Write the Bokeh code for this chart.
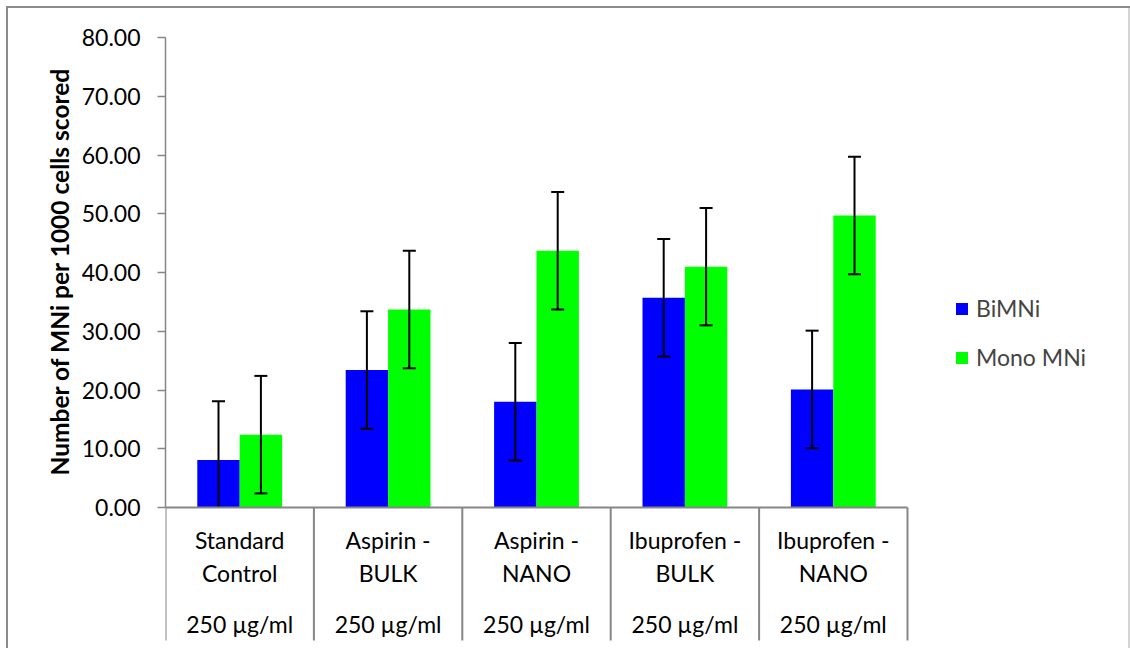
from bokeh.plotting import figure
from bokeh.models import (Range1d, FixedTicker, NumeralTickFormatter, Title,
                          Legend, LegendItem, ColumnDataSource)
from bokeh.core.properties import value
from bokeh.embed import file_html
from bokeh.resources import INLINE

# ---------------- data ----------------
categories = ["Standard\nControl", "Aspirin -\nBULK", "Aspirin -\nNANO",
              "Ibuprofen -\nBULK", "Ibuprofen -\nNANO"]
dose_labels = ["250 µg/ml", "250 µg/ml", "250 µg/ml", "250 µg/ml", "250 µg/ml"]
bimni = [8.1, 23.4, 18.0, 35.7, 20.1]
bimni_err = [10.0, 10.0, 10.0, 10.0, 10.0]
mono_mni = [12.4, 33.7, 43.7, 41.0, 49.7]
mono_err = [10.0, 10.0, 10.0, 10.0, 10.0]
series_names = ["BiMNi", "Mono MNi"]
y_ticks = [0, 10, 20, 30, 40, 50, 60, 70, 80]
y_title = "Number of MNi per 1000 cells scored"

# ---------------- style ----------------
FONT = "Lato"
FS = "23px"
AXIS_COLOR = "#868686"
BLUE = "#0000FF"
GREEN = "#00FF00"
BAR_W = 1 / 3.5
PX_PER_UNIT = 470 / 80.0
CAT_PX = (907 - 165) / 5.0
FRAME_L, FRAME_R, FRAME_T, FRAME_B = 165, 1127, 37, 648
ZERO_Y = 507
Y_BOTTOM = -(FRAME_B - ZERO_Y) / PX_PER_UNIT
SEP_BOTTOM = -(640 - ZERO_Y) / PX_PER_UNIT
X_END = (FRAME_R - FRAME_L) / CAT_PX


def dy(px_below_zero):
    return -px_below_zero / PX_PER_UNIT


W, H = 1130, 648
p = figure(width=W, height=H, output_backend="svg", toolbar_location=None,
           x_range=Range1d(0, X_END), y_range=Range1d(Y_BOTTOM, 80),
           x_axis_location=None, min_border_left=FRAME_L, min_border_right=W - FRAME_R,
           min_border_top=FRAME_T, min_border_bottom=H - FRAME_B)
p.xgrid.visible = False
p.ygrid.visible = False
p.outline_line_color = None
p.background_fill_color = "white"
p.border_fill_color = None
p.styles = {"box-shadow": ("inset 0 6px 0 0 white, inset 6px 0 0 0 white, "
                           "inset 0 8px 0 0 #8c8c8c, inset 8px 0 0 0 #8c8c8c, "
                           "inset -2px 0 0 0 #d4d4d4")}

# y axis
ax = p.yaxis[0]
ax.ticker = FixedTicker(ticks=y_ticks)
ax.formatter = NumeralTickFormatter(format="0.00")
ax.bounds = (0, 80)
ax.axis_line_color = AXIS_COLOR
ax.axis_line_width = 1.5
ax.major_tick_line_color = AXIS_COLOR
ax.major_tick_line_width = 1.5
ax.major_tick_out = 8
ax.major_tick_in = 0
ax.minor_tick_line_color = None
ax.major_label_standoff = 17
ax.major_label_text_font = FONT
ax.major_label_text_font_size = FS
ax.major_label_text_color = "black"

ytitle = Title(text=y_title, align="left", offset=FRAME_B - 475,
               text_font=FONT, text_font_size="24.5px", text_font_style="bold",
               text_color="black", standoff=10)
p.add_layout(ytitle, "left")

n = len(categories)
centers = [i + 0.5 for i in range(n)]
src = ColumnDataSource(dict(
    xc=centers, bimni=bimni, mono=mono_mni,
    xb=[c - BAR_W / 2 for c in centers], xm=[c + BAR_W / 2 for c in centers],
    b_hi=[v + e for v, e in zip(bimni, bimni_err)],
    b_lo=[max(v - e, 0) for v, e in zip(bimni, bimni_err)],
    m_hi=[v + e for v, e in zip(mono_mni, mono_err)],
    m_lo=[max(v - e, 0) for v, e in zip(mono_mni, mono_err)],
))

r_b = p.vbar(x="xb", top="bimni", bottom=0, width=BAR_W, source=src,
             fill_color=BLUE, line_color=None)
r_m = p.vbar(x="xm", top="mono", bottom=0, width=BAR_W, source=src,
             fill_color=GREEN, line_color=None)

# error bars
for xcol, hi, lo, vals, errs in (("xb", "b_hi", "b_lo", bimni, bimni_err),
                                 ("xm", "m_hi", "m_lo", mono_mni, mono_err)):
    p.segment(x0=xcol, y0=lo, x1=xcol, y1=hi, source=src, line_color="black", line_width=2)
    p.scatter(x=xcol, y=hi, source=src, marker="dash", size=13, line_color="black", line_width=2)
    lo_ok = [i for i, (v, e) in enumerate(zip(vals, errs)) if v - e > 0]
    sub = ColumnDataSource(dict(x=[src.data[xcol][i] for i in lo_ok],
                                lo=[vals[i] - errs[i] for i in lo_ok]))
    p.scatter(x="x", y="lo", source=sub, marker="dash", size=13,
              line_color="black", line_width=2)

# category axis (table style)
bounds_x = list(range(n + 1))
p.segment(x0=[0], y0=[0], x1=[n], y1=[0], line_color=AXIS_COLOR, line_width=2)
p.segment(x0=bounds_x, y0=[0] * (n + 1), x1=bounds_x, y1=[SEP_BOTTOM] * (n + 1),
          line_color=AXIS_COLOR, line_width=2)

line1 = [c.split("\n")[0] for c in categories]
line2 = [c.split("\n")[1] for c in categories]
for txt, base in ((line1, 539 - ZERO_Y), (line2, 572 - ZERO_Y), (dose_labels, 623 - ZERO_Y)):
    p.text(x=centers, y=[dy(base)] * n, text=txt,
           text_align="center", text_baseline="alphabetic", text_font=value(FONT),
           text_font_size=FS, text_color="black")

legend = Legend(items=[LegendItem(label=series_names[0], renderers=[r_b]),
                       LegendItem(label=series_names[1], renderers=[r_m])],
                location=(954 - FRAME_L, FRAME_B - 371), glyph_width=15, glyph_height=15,
                label_standoff=7, spacing=21, padding=0, margin=0,
                label_text_font=FONT, label_text_font_size=FS,
                border_line_color=None, background_fill_alpha=0)
p.add_layout(legend)

open("out.html", "w").write(file_html(p, INLINE))
